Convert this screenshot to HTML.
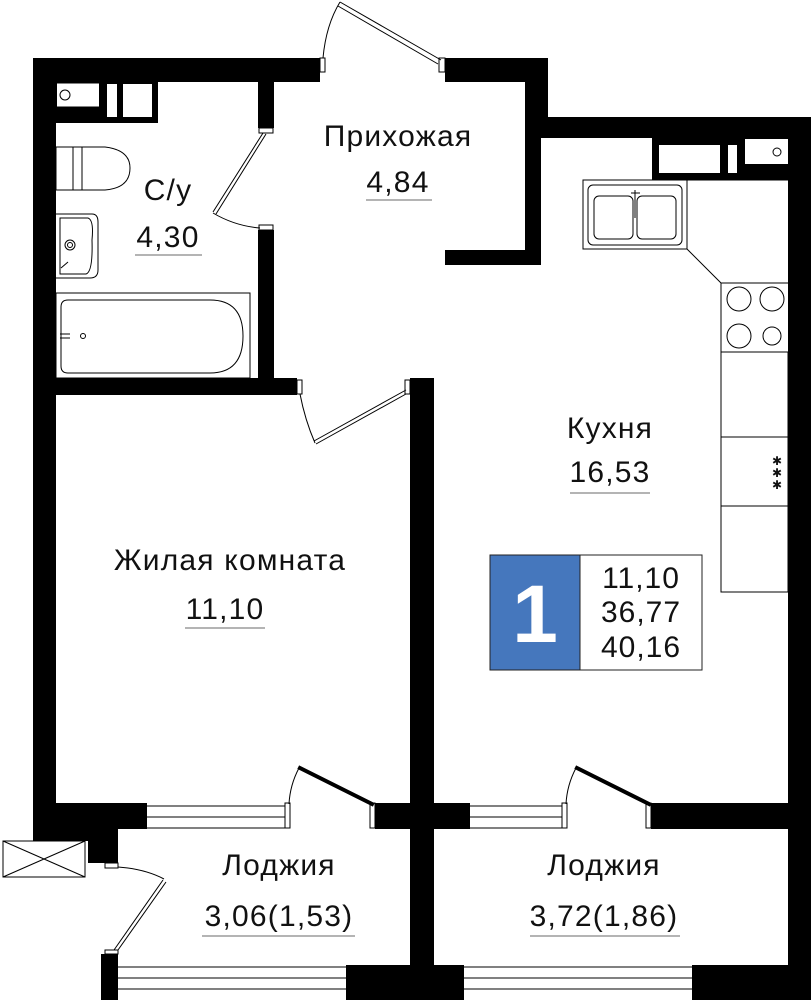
<!DOCTYPE html>
<html><head><meta charset="utf-8"><style>
html,body{margin:0;padding:0;background:#fff;}
svg{display:block;}
text{font-family:"Liberation Sans","DejaVu Sans",sans-serif;fill:#111;}
</style></head><body>
<svg width="811" height="1000" viewBox="0 0 811 1000" xmlns="http://www.w3.org/2000/svg">
<g fill="#000">
<rect x="33" y="58" width="287" height="24"/>
<rect x="445" y="58" width="103" height="24"/>
<rect x="525" y="58" width="23" height="80"/>
<rect x="525" y="82" width="16" height="183"/>
<rect x="445" y="250" width="96" height="15"/>
<rect x="541" y="117" width="270" height="21"/>
<rect x="33" y="58" width="23" height="771"/>
<rect x="258" y="82" width="16" height="46"/>
<rect x="258" y="230" width="16" height="150"/>
<rect x="33" y="378" width="264" height="17"/>
<rect x="410" y="378" width="24" height="622"/>
<rect x="788" y="117" width="23" height="883"/>
<rect x="33" y="803" width="114" height="26"/>
<rect x="33" y="829" width="85" height="12"/>
<rect x="88" y="829" width="30" height="34"/>
<rect x="375" y="803" width="95" height="26"/>
<rect x="651" y="803" width="160" height="26"/>
<rect x="101" y="954" width="17" height="46"/>
<rect x="346" y="965" width="118" height="35"/>
<rect x="692" y="965" width="119" height="35"/>
<rect x="56" y="82" width="102" height="41"/>
<rect x="652" y="138" width="136" height="42"/>
</g>
<g fill="#fff" stroke="#000" stroke-width="1">
<rect x="56.5" y="83" width="43" height="24"/>
<circle cx="65" cy="95" r="5"/>
<rect x="107" y="84" width="10" height="33" stroke="none"/>
<rect x="123" y="84" width="29" height="33" stroke="none"/>
<rect x="659" y="145" width="61" height="28" stroke="none"/>
<rect x="728" y="145" width="9" height="28" stroke="none"/>
<rect x="745" y="139" width="43" height="25" stroke="none"/>
<circle cx="777" cy="152" r="4"/>
<rect x="320" y="58" width="5" height="14"/>
<rect x="439" y="58" width="6" height="14"/>
<rect x="259" y="128" width="14" height="5"/>
<rect x="259" y="225" width="14" height="5"/>
<rect x="297" y="380" width="5" height="14"/>
<rect x="405" y="380" width="5" height="14"/>
<rect x="105" y="863" width="13" height="5"/>
<rect x="105" y="950" width="13" height="4"/>
<rect x="285" y="803" width="5" height="25"/>
<rect x="562" y="803" width="5" height="25"/>
<rect x="370" y="803" width="5" height="25"/>
<rect x="646" y="803" width="5" height="25"/>
</g>
<g fill="none" stroke="#000" stroke-width="1">
<path d="M441 60 L340 2 M438 64 L338 6"/>
<path d="M340 2 Q326 25 323 58"/>
<path d="M263 133 L213 212 M266 134 L216 214"/>
<path d="M213 213 Q235 226 260 228"/>
<path d="M406 390 L314 441 M406 394 L316 444"/>
<path d="M315 443 Q305 420 300 394"/>
<path d="M163 880 L114 950 M166 882 L118 950"/>
<path d="M118 867 Q145 869 164 879"/>
<path d="M299 768 Q290 785 289 804"/>
<path d="M576 768 Q567 785 566 804"/>
<path d="M147 806 H285 M147 817 H285 M147 828 H285"/>
<path d="M470 806 H562 M470 817 H562 M470 828 H562"/>
<path d="M118 967 H346 M118 978 H346 M118 989 H346"/>
<path d="M464 967 H692 M464 978 H692 M464 989 H692"/>
<rect x="3" y="841" width="82" height="36"/>
<path d="M3 841 L85 877 M85 841 L3 877"/>
<rect x="56" y="147" width="17" height="43"/>
<rect x="73" y="147" width="9" height="43"/>
<path d="M82 147 H105 Q130 150 130 168 Q130 188 105 190 H82"/>
<path d="M56 214 H92 Q98 214 98 222 V270 Q98 278 90 278 H56"/>
<path d="M60 218 H88 Q94 220 92 240 Q93 272 86 274 H60 Z"/>
<circle cx="70" cy="245" r="5"/>
<circle cx="70" cy="245" r="2.5"/>
<path d="M61 268 L68 262"/>
<rect x="56" y="293" width="194" height="85"/>
<path d="M68 300 H210 Q243 300 243 336 Q243 373 210 373 H68 Q61 373 61 366 V307 Q61 300 68 300 Z"/>
<circle cx="83" cy="336" r="2.5"/>
<path d="M60 334 H70 M60 338 H70"/>
<rect x="583" y="180" width="104" height="69"/>
<rect x="588" y="185" width="94" height="60" rx="5"/>
<rect x="594" y="196" width="39" height="43" rx="5"/>
<rect x="637" y="196" width="39" height="43" rx="5"/>
<path d="M635 190 V218 M631 193 H640"/>
<path d="M687 180 H790 M687 249 L721 283"/>
<rect x="721" y="283" width="69" height="69"/>
<circle cx="739" cy="299" r="12"/>
<circle cx="772" cy="299" r="12"/>
<circle cx="739" cy="336" r="12"/>
<circle cx="772" cy="336" r="9"/>
<rect x="721" y="352" width="67" height="85"/>
<rect x="721" y="437" width="67" height="69"/>
<rect x="721" y="506" width="67" height="86"/>
</g>
<g stroke="#000" stroke-width="4" stroke-linecap="square">
<path d="M300 768 L372 804"/>
<path d="M577 768 L649 804"/>
</g>
<text x="777" y="465" font-size="12" text-anchor="middle">✱</text>
<text x="777" y="477" font-size="12" text-anchor="middle">✱</text>
<text x="777" y="489" font-size="12" text-anchor="middle">✱</text>
<g font-size="30" text-anchor="middle" letter-spacing="1.2">
<text x="398" y="146">Прихожая</text>
<text x="398" y="192">4,84</text>
<text x="168" y="200">С/у</text>
<text x="168" y="247">4,30</text>
<text x="610" y="438">Кухня</text>
<text x="610" y="482">16,53</text>
<text x="230" y="570">Жилая комната</text>
<text x="225" y="619">11,10</text>
<text x="279" y="875">Лоджия</text>
<text x="279" y="926">3,06(1,53)</text>
<text x="604" y="875">Лоджия</text>
<text x="604" y="926">3,72(1,86)</text>
</g>
<g stroke="#888" stroke-width="1.2">
<path d="M366 200 H432 M135 255 H202 M570 493 H650 M185 628 H265 M202 936 H355 M530 936 H680"/>
</g>
<rect x="490" y="555" width="90" height="115" fill="#4577bd" stroke="#222"/>
<rect x="580" y="555" width="122" height="115" fill="#fff" stroke="#222"/>
<text x="535" y="642" font-size="82" font-weight="bold" text-anchor="middle" style="fill:#fff">1</text>
<g font-size="30" text-anchor="middle" letter-spacing="1">
<text x="641" y="588">11,10</text>
<text x="641" y="622">36,77</text>
<text x="641" y="657">40,16</text>
</g>
</svg>
</body></html>
